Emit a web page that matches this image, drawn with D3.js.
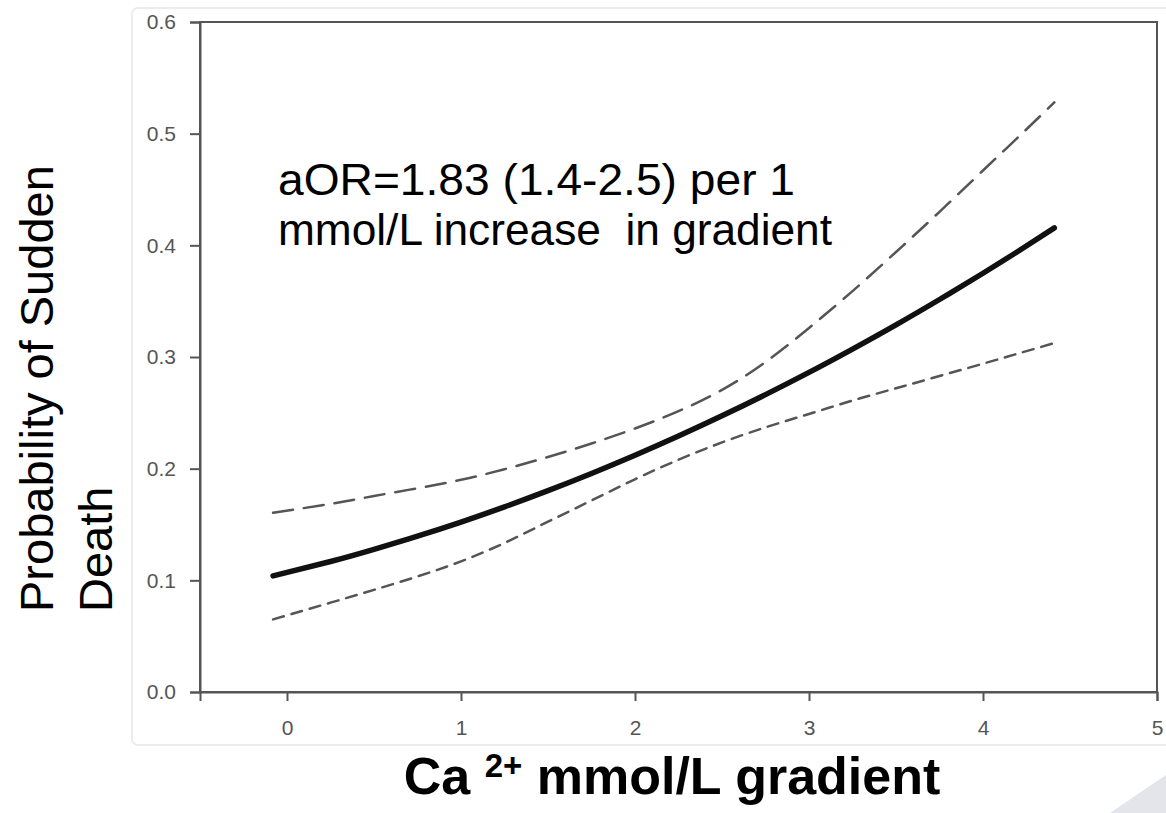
<!DOCTYPE html>
<html>
<head>
<meta charset="utf-8">
<script src="https://cdn.jsdelivr.net/npm/d3@7"></script>
<style>
  html, body { margin: 0; padding: 0; background: #fff; }
  svg { display: block; font-family: "Liberation Sans", Arial, sans-serif; }
  .tick text { font-size: 21px; font-family: "Liberation Sans", Arial, sans-serif; fill: #555; }
</style>
</head>
<body>
<svg id="chart" width="1166" height="813"></svg>
<script>
// ---- data ----
const xValues   = [-0.08, 0.25, 0.5, 0.75, 1.0, 1.25, 1.5, 1.75, 2.0, 2.25, 2.5, 2.75, 3.0, 3.25, 3.5, 3.75, 4.0, 4.2, 4.41];
const estimate  = [0.104, 0.1169, 0.1278, 0.1396, 0.1522, 0.1658, 0.1803, 0.1957, 0.2120, 0.2292, 0.2473, 0.2663, 0.2862, 0.3071, 0.3288, 0.3515, 0.3750, 0.3945, 0.4156];
const upperCI   = [0.1605, 0.1685, 0.1755, 0.1825, 0.190, 0.1995, 0.2105, 0.2225, 0.236, 0.2515, 0.2705, 0.2955, 0.326, 0.359, 0.394, 0.430, 0.467, 0.4965, 0.528];
const lowerCI   = [0.065, 0.080, 0.0915, 0.1035, 0.117, 0.1335, 0.1525, 0.1715, 0.1905, 0.208, 0.2235, 0.237, 0.249, 0.261, 0.272, 0.283, 0.294, 0.303, 0.3125];
const xTicks    = [0, 1, 2, 3, 4, 5];
const yTicks    = [0.0, 0.1, 0.2, 0.3, 0.4, 0.5, 0.6];
const annotationLines = ["aOR=1.83 (1.4-2.5) per 1", "mmol/L increase\u00A0 in gradient"];
const yLabelLines = ["Probability of Sudden", "Death"];

const svg = d3.select("#chart");

// slide-like background pieces
svg.append("rect").attr("x", 132).attr("y", 8).attr("width", 1060).attr("height", 737)
  .attr("rx", 6).attr("fill", "#fff").attr("stroke", "#ececec").attr("stroke-width", 2);
svg.append("polygon").attr("points", "1110,813 1166,775 1166,813").attr("fill", "#e3e5eb");

const x = d3.scaleLinear().domain([-0.5, 5]).range([200, 1157]);
const y = d3.scaleLinear().domain([0, 0.6]).range([692, 22]);

const axisColor = "#555";

// frame
svg.append("rect").attr("x", x(-0.5)).attr("y", y(0.6))
  .attr("width", x(5) - x(-0.5)).attr("height", y(0) - y(0.6))
  .attr("fill", "none").attr("stroke", axisColor).attr("stroke-width", 2);

// y axis
const gy = svg.append("g").attr("transform", `translate(${x(-0.5)},0)`)
  .call(d3.axisLeft(y).tickValues(yTicks).tickFormat(d3.format(".1f")).tickSize(10).tickPadding(14));
gy.select(".domain").attr("stroke", axisColor).attr("stroke-width", 2);
gy.selectAll(".tick line").attr("stroke", axisColor).attr("stroke-width", 2);

// x axis
const gx = svg.append("g").attr("transform", `translate(0,${y(0)})`)
  .call(d3.axisBottom(x).tickValues(xTicks).tickFormat(d3.format("d")).tickSize(9).tickPadding(19));
gx.select(".domain").attr("stroke", axisColor).attr("stroke-width", 2);
gx.selectAll(".tick line").attr("stroke", axisColor).attr("stroke-width", 2);

// lines
const line = d3.line().x(d => x(d[0])).y(d => y(d[1])).curve(d3.curveNatural);
const mk = arr => xValues.map((v, i) => [v, arr[i]]);

svg.append("path").datum(mk(upperCI)).attr("d", line)
  .attr("fill", "none").attr("stroke", "#555").attr("stroke-width", 2.5)
  .attr("stroke-dasharray", "20,11").attr("stroke-linecap", "round");
svg.append("path").datum(mk(lowerCI)).attr("d", line)
  .attr("fill", "none").attr("stroke", "#555").attr("stroke-width", 2.5)
  .attr("stroke-dasharray", "11,8").attr("stroke-linecap", "round");
svg.append("path").datum(mk(estimate)).attr("d", line)
  .attr("fill", "none").attr("stroke", "#111").attr("stroke-width", 5.5)
  .attr("stroke-linecap", "round");

// annotation
svg.append("text").attr("x", 278).attr("y", 195).attr("font-size", 45).attr("fill", "#000")
  .attr("textLength", 517).attr("lengthAdjust", "spacingAndGlyphs")
  .text(annotationLines[0]);
svg.append("text").attr("x", 278).attr("y", 245).attr("font-size", 45).attr("fill", "#000")
  .attr("textLength", 554).attr("lengthAdjust", "spacingAndGlyphs")
  .text(annotationLines[1]);

// y label
svg.append("text").attr("transform", "translate(53,612) rotate(-90)")
  .attr("font-size", 47).attr("fill", "#000").text(yLabelLines[0]);
svg.append("text").attr("transform", "translate(112,612) rotate(-90)")
  .attr("font-size", 47).attr("fill", "#000").text(yLabelLines[1]);

// x label
const xl = svg.append("text").attr("x", 672).attr("y", 794).attr("text-anchor", "middle")
  .attr("font-size", 52).attr("font-weight", "bold").attr("fill", "#000");
xl.append("tspan").text("Ca ");
xl.append("tspan").attr("font-size", 33).attr("dy", -17).text("2+");
xl.append("tspan").attr("dy", 17).text(" mmol/L gradient");
</script>
</body>
</html>
